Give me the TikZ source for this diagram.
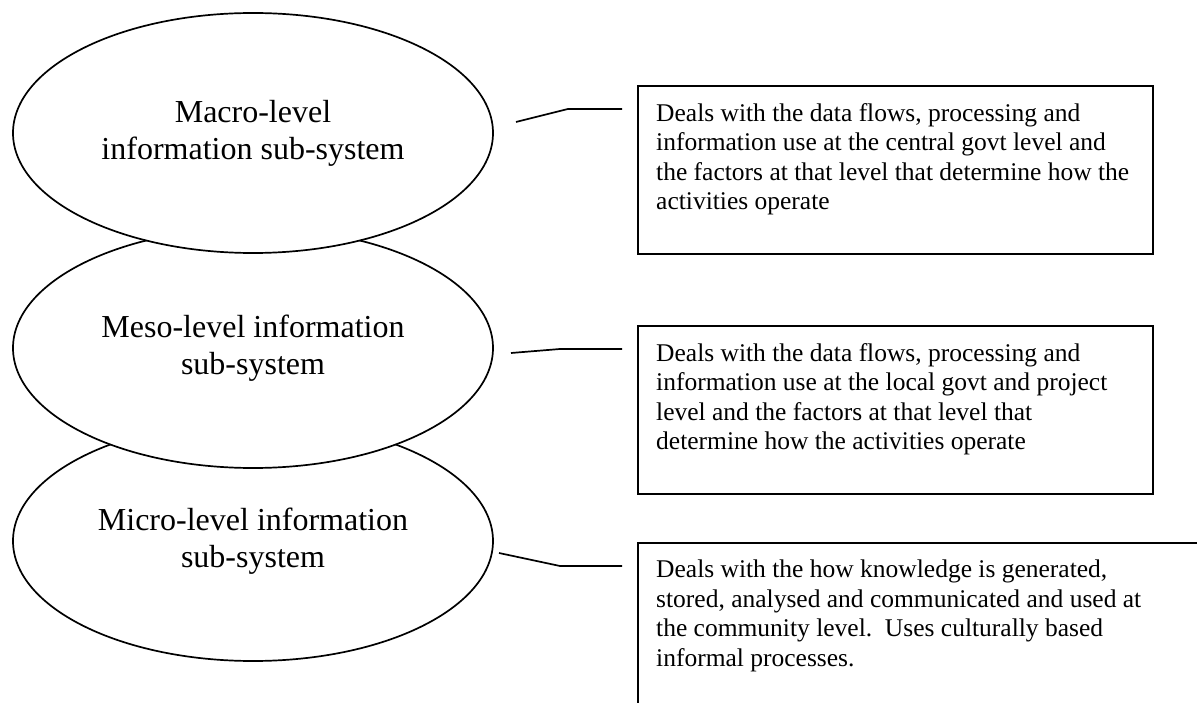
\documentclass[tikz,border=0pt]{standalone}
\usepackage{fontspec}
\setmainfont{Liberation Serif}
\usetikzlibrary{shapes.geometric}
\begin{document}
\begin{tikzpicture}[x=1pt,y=-1pt,
  lvl/.style={ellipse, draw=black, line width=1.7pt, fill=white,
    minimum width=480pt, minimum height=240pt, inner sep=0pt,
    align=center, font=\fontsize{32}{37}\selectfont},
  infobox/.style={draw=black, line width=1.6pt, anchor=north west,
    inner sep=0pt},
  infotext/.style={anchor=north west, inner sep=0pt, align=left,
    font=\fontsize{25.5}{29.5}\selectfont},
  link/.style={draw=black, line width=1.7pt}]
\clip (0,0) rectangle (1197,703);
\useasboundingbox (0,0) rectangle (1197,703);
% ellipses (bottom first so upper ones overlap)
\node[lvl] (micro) at (253,541) {Micro-level information\\sub-system};
\node[lvl] (meso)  at (253,348) {Meso-level information\\sub-system};
\node[lvl] (macro) at (253,133) {Macro-level\\information sub-system};
% boxes
\node[infobox, minimum width=515pt, minimum height=168pt] (box1) at (637,85) {};
\node[infobox, minimum width=515pt, minimum height=168pt] (box2) at (637,325) {};
\node[infobox, minimum width=620pt, minimum height=220pt] (box3) at (637,542) {};
\node[infotext] (t1) at (656,103) {Deals with the data flows, processing and\\information use at the central govt level and\\the factors at that level that determine how the\\activities operate};
\node[infotext] (t2) at (656,343) {Deals with the data flows, processing and\\information use at the local govt and project\\level and the factors at that level that\\determine how the activities operate};
\node[infotext] (t3) at (656,560) {Deals with the how knowledge is generated,\\stored, analysed and communicated and used at\\the community level.\ \ Uses culturally based\\informal processes.};
% connectors
\coordinate (c1a) at (516,122); \coordinate (c1b) at (568,109); \coordinate (c1c) at (622,109);
\coordinate (c2a) at (511,353); \coordinate (c2b) at (560,349); \coordinate (c2c) at (622,349);
\coordinate (c3a) at (499,553); \coordinate (c3b) at (560,566); \coordinate (c3c) at (622,566);
\draw[link] (c1a) -- (c1b) -- (c1c);
\draw[link] (c2a) -- (c2b) -- (c2c);
\draw[link] (c3a) -- (c3b) -- (c3c);
\end{tikzpicture}
\end{document}
